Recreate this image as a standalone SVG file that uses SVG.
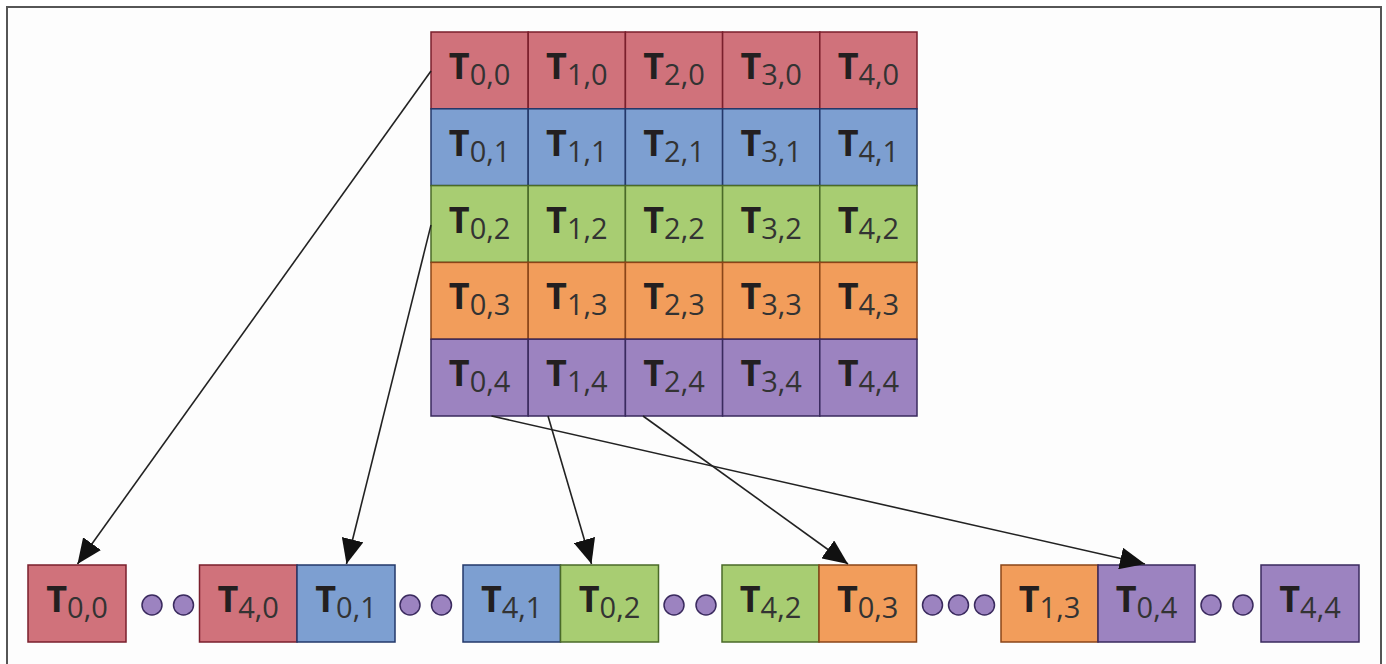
<svg xmlns="http://www.w3.org/2000/svg" width="1386" height="664" viewBox="0 0 1386 664">
<style>
.T{font-family:"Open Sans","Liberation Sans",sans-serif;font-weight:bold;font-size:36px;fill:#231f20}
.s{font-family:"Open Sans","Liberation Sans",sans-serif;font-weight:normal;font-size:29px;fill:#333}
.r{fill:#d0727b;stroke:#7a1f2c;stroke-width:1.5}
.b{fill:#7d9fd1;stroke:#23386a;stroke-width:1.5}
.g{fill:#a8cd72;stroke:#4a6a28;stroke-width:1.5}
.o{fill:#f29d5b;stroke:#8a4519;stroke-width:1.5}
.p{fill:#9c83c0;stroke:#3a2a5e;stroke-width:1.5}
.dot{fill:#9c83c0;stroke:#3a2a5e;stroke-width:1.5}
.c{stroke:#222;stroke-width:1.6;fill:none;marker-end:url(#ah)}
</style>
<defs>
<marker id="ah" viewBox="0 0 25 22" refX="25" refY="11" markerWidth="25" markerHeight="22" markerUnits="userSpaceOnUse" orient="auto">
<path d="M0,0 L25,11 L0,22 z" fill="#111"/>
</marker>
</defs>
<rect x="0" y="0" width="1386" height="664" fill="#ffffff"/>
<rect x="7" y="7" width="1374" height="660" fill="#fdfdfd" stroke="#555" stroke-width="2"/>

<g id="grid">
<g id="t00"><rect class="r" x="431" y="32" width="97.2" height="76.8"/><text x="479.6" y="79" text-anchor="middle"><tspan class="T">T</tspan><tspan class="s" dy="6">0,0</tspan></text></g>
<g id="t10"><rect class="r" x="528.2" y="32" width="97.2" height="76.8"/><text x="576.8" y="79" text-anchor="middle"><tspan class="T">T</tspan><tspan class="s" dy="6">1,0</tspan></text></g>
<g id="t20"><rect class="r" x="625.4" y="32" width="97.2" height="76.8"/><text x="674" y="79" text-anchor="middle"><tspan class="T">T</tspan><tspan class="s" dy="6">2,0</tspan></text></g>
<g id="t30"><rect class="r" x="722.6" y="32" width="97.2" height="76.8"/><text x="771.2" y="79" text-anchor="middle"><tspan class="T">T</tspan><tspan class="s" dy="6">3,0</tspan></text></g>
<g id="t40"><rect class="r" x="819.8" y="32" width="97.2" height="76.8"/><text x="868.4" y="79" text-anchor="middle"><tspan class="T">T</tspan><tspan class="s" dy="6">4,0</tspan></text></g>

<g id="t01"><rect class="b" x="431" y="108.8" width="97.2" height="76.8"/><text x="479.6" y="155.8" text-anchor="middle"><tspan class="T">T</tspan><tspan class="s" dy="6">0,1</tspan></text></g>
<g id="t11"><rect class="b" x="528.2" y="108.8" width="97.2" height="76.8"/><text x="576.8" y="155.8" text-anchor="middle"><tspan class="T">T</tspan><tspan class="s" dy="6">1,1</tspan></text></g>
<g id="t21"><rect class="b" x="625.4" y="108.8" width="97.2" height="76.8"/><text x="674" y="155.8" text-anchor="middle"><tspan class="T">T</tspan><tspan class="s" dy="6">2,1</tspan></text></g>
<g id="t31"><rect class="b" x="722.6" y="108.8" width="97.2" height="76.8"/><text x="771.2" y="155.8" text-anchor="middle"><tspan class="T">T</tspan><tspan class="s" dy="6">3,1</tspan></text></g>
<g id="t41"><rect class="b" x="819.8" y="108.8" width="97.2" height="76.8"/><text x="868.4" y="155.8" text-anchor="middle"><tspan class="T">T</tspan><tspan class="s" dy="6">4,1</tspan></text></g>

<g id="t02"><rect class="g" x="431" y="185.6" width="97.2" height="76.8"/><text x="479.6" y="232.6" text-anchor="middle"><tspan class="T">T</tspan><tspan class="s" dy="6">0,2</tspan></text></g>
<g id="t12"><rect class="g" x="528.2" y="185.6" width="97.2" height="76.8"/><text x="576.8" y="232.6" text-anchor="middle"><tspan class="T">T</tspan><tspan class="s" dy="6">1,2</tspan></text></g>
<g id="t22"><rect class="g" x="625.4" y="185.6" width="97.2" height="76.8"/><text x="674" y="232.6" text-anchor="middle"><tspan class="T">T</tspan><tspan class="s" dy="6">2,2</tspan></text></g>
<g id="t32"><rect class="g" x="722.6" y="185.6" width="97.2" height="76.8"/><text x="771.2" y="232.6" text-anchor="middle"><tspan class="T">T</tspan><tspan class="s" dy="6">3,2</tspan></text></g>
<g id="t42"><rect class="g" x="819.8" y="185.6" width="97.2" height="76.8"/><text x="868.4" y="232.6" text-anchor="middle"><tspan class="T">T</tspan><tspan class="s" dy="6">4,2</tspan></text></g>

<g id="t03"><rect class="o" x="431" y="262.4" width="97.2" height="76.8"/><text x="479.6" y="309.4" text-anchor="middle"><tspan class="T">T</tspan><tspan class="s" dy="6">0,3</tspan></text></g>
<g id="t13"><rect class="o" x="528.2" y="262.4" width="97.2" height="76.8"/><text x="576.8" y="309.4" text-anchor="middle"><tspan class="T">T</tspan><tspan class="s" dy="6">1,3</tspan></text></g>
<g id="t23"><rect class="o" x="625.4" y="262.4" width="97.2" height="76.8"/><text x="674" y="309.4" text-anchor="middle"><tspan class="T">T</tspan><tspan class="s" dy="6">2,3</tspan></text></g>
<g id="t33"><rect class="o" x="722.6" y="262.4" width="97.2" height="76.8"/><text x="771.2" y="309.4" text-anchor="middle"><tspan class="T">T</tspan><tspan class="s" dy="6">3,3</tspan></text></g>
<g id="t43"><rect class="o" x="819.8" y="262.4" width="97.2" height="76.8"/><text x="868.4" y="309.4" text-anchor="middle"><tspan class="T">T</tspan><tspan class="s" dy="6">4,3</tspan></text></g>

<g id="t04"><rect class="p" x="431" y="339.2" width="97.2" height="76.8"/><text x="479.6" y="386.2" text-anchor="middle"><tspan class="T">T</tspan><tspan class="s" dy="6">0,4</tspan></text></g>
<g id="t14"><rect class="p" x="528.2" y="339.2" width="97.2" height="76.8"/><text x="576.8" y="386.2" text-anchor="middle"><tspan class="T">T</tspan><tspan class="s" dy="6">1,4</tspan></text></g>
<g id="t24"><rect class="p" x="625.4" y="339.2" width="97.2" height="76.8"/><text x="674" y="386.2" text-anchor="middle"><tspan class="T">T</tspan><tspan class="s" dy="6">2,4</tspan></text></g>
<g id="t34"><rect class="p" x="722.6" y="339.2" width="97.2" height="76.8"/><text x="771.2" y="386.2" text-anchor="middle"><tspan class="T">T</tspan><tspan class="s" dy="6">3,4</tspan></text></g>
<g id="t44"><rect class="p" x="819.8" y="339.2" width="97.2" height="76.8"/><text x="868.4" y="386.2" text-anchor="middle"><tspan class="T">T</tspan><tspan class="s" dy="6">4,4</tspan></text></g>
</g>

<g id="row">
<g id="b00"><rect class="r" x="28" y="565" width="98" height="77"/><text x="77" y="611.5" text-anchor="middle"><tspan class="T">T</tspan><tspan class="s" dy="6">0,0</tspan></text></g>
<g id="b40"><rect class="r" x="199.5" y="565" width="97.5" height="77"/><text x="248.2" y="611.5" text-anchor="middle"><tspan class="T">T</tspan><tspan class="s" dy="6">4,0</tspan></text></g>
<g id="b01"><rect class="b" x="297" y="565" width="98" height="77"/><text x="346" y="611.5" text-anchor="middle"><tspan class="T">T</tspan><tspan class="s" dy="6">0,1</tspan></text></g>
<g id="b41"><rect class="b" x="463" y="565" width="97.5" height="77"/><text x="511.7" y="611.5" text-anchor="middle"><tspan class="T">T</tspan><tspan class="s" dy="6">4,1</tspan></text></g>
<g id="b02"><rect class="g" x="560.5" y="565" width="98" height="77"/><text x="609.5" y="611.5" text-anchor="middle"><tspan class="T">T</tspan><tspan class="s" dy="6">0,2</tspan></text></g>
<g id="b42"><rect class="g" x="722" y="565" width="97" height="77"/><text x="770.5" y="611.5" text-anchor="middle"><tspan class="T">T</tspan><tspan class="s" dy="6">4,2</tspan></text></g>
<g id="b03"><rect class="o" x="819" y="565" width="97.5" height="77"/><text x="867.7" y="611.5" text-anchor="middle"><tspan class="T">T</tspan><tspan class="s" dy="6">0,3</tspan></text></g>
<g id="b13"><rect class="o" x="1001" y="565" width="97" height="77"/><text x="1049.5" y="611.5" text-anchor="middle"><tspan class="T">T</tspan><tspan class="s" dy="6">1,3</tspan></text></g>
<g id="b04"><rect class="p" x="1098" y="565" width="97" height="77"/><text x="1146.5" y="611.5" text-anchor="middle"><tspan class="T">T</tspan><tspan class="s" dy="6">0,4</tspan></text></g>
<g id="b44"><rect class="p" x="1261" y="565" width="98" height="77"/><text x="1310" y="611.5" text-anchor="middle"><tspan class="T">T</tspan><tspan class="s" dy="6">4,4</tspan></text></g>
</g>

<g id="dots">
<circle class="dot" cx="152" cy="605" r="10"/>
<circle class="dot" cx="183.5" cy="605" r="10"/>
<circle class="dot" cx="410" cy="605" r="10"/>
<circle class="dot" cx="441.5" cy="605" r="10"/>
<circle class="dot" cx="674" cy="605" r="10"/>
<circle class="dot" cx="706" cy="605" r="10"/>
<circle class="dot" cx="932.5" cy="605" r="10"/>
<circle class="dot" cx="958.5" cy="605" r="10"/>
<circle class="dot" cx="984.5" cy="605" r="10"/>
<circle class="dot" cx="1211" cy="605" r="10"/>
<circle class="dot" cx="1243" cy="605" r="10"/>
</g>

<g id="connectors">
<line class="c" x1="431" y1="71" x2="77.5" y2="564"/>
<line class="c" x1="431" y1="225" x2="346.5" y2="564"/>
<line class="c" x1="548" y1="416" x2="591.5" y2="564"/>
<line class="c" x1="643" y1="416" x2="848" y2="564"/>
<line class="c" x1="491.5" y1="416" x2="1145" y2="564"/>
</g>
</svg>
